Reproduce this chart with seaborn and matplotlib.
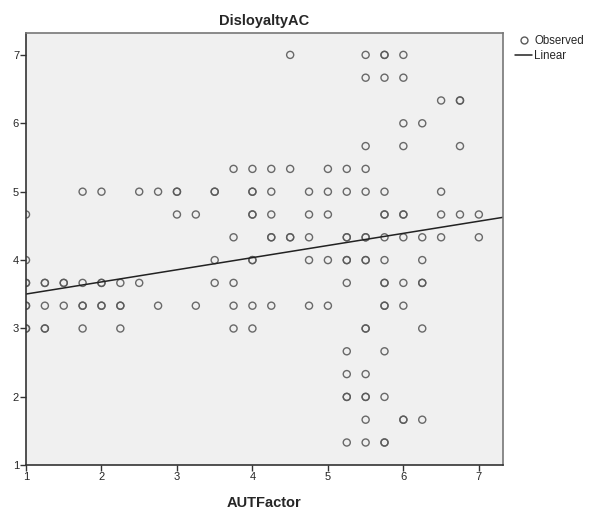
import matplotlib
matplotlib.use("Agg")
import matplotlib.pyplot as plt
import seaborn as sns
import pandas as pd
import numpy as np
from matplotlib.lines import Line2D

sns.set_style("white")
plt.rcParams['font.family'] = ['Liberation Sans', 'DejaVu Sans']

t = 1/3
# Observed points, grouped by DisloyaltyAC row value: list of AUTFactor values
rows = {
    7.0: [4.5, 5.5, 5.75, 5.75, 6.0],
    6 + 2*t: [5.5, 5.75, 6.0],
    6 + t: [6.5, 6.75, 6.75],
    6.0: [6.0, 6.25],
    5 + 2*t: [5.5, 6.0, 6.75],
    5 + t: [3.75, 4.0, 4.25, 4.5, 5.0, 5.25, 5.5],
    5.0: [1.75, 2.0, 2.5, 2.75, 3.0, 3.0, 3.5, 3.5, 4.0, 4.0, 4.25, 4.75, 5.0, 5.25, 5.5, 5.75, 6.5],
    4 + 2*t: [1.0, 3.0, 3.25, 4.0, 4.0, 4.25, 4.75, 5.0, 5.75, 5.75, 6.0, 6.0, 6.5, 6.75, 7.0],
    4 + t: [3.75, 4.25, 4.25, 4.5, 4.5, 4.75, 5.25, 5.25, 5.5, 5.5, 5.75, 6.0, 6.25, 6.5, 7.0],
    4.0: [1.0, 3.5, 4.0, 4.0, 4.75, 5.0, 5.25, 5.25, 5.5, 5.5, 5.75, 6.25],
    3 + 2*t: [1.0, 1.0, 1.25, 1.25, 1.5, 1.5, 1.75, 2.0, 2.0, 2.25, 2.5, 3.5, 3.75, 5.25, 5.75, 5.75, 6.0, 6.25, 6.25],
    3 + t: [1.0, 1.0, 1.25, 1.5, 1.75, 1.75, 2.0, 2.0, 2.25, 2.25, 2.75, 3.25, 3.75, 4.0, 4.25, 4.75, 5.0, 5.75, 5.75, 6.0],
    3.0: [1.0, 1.0, 1.25, 1.25, 1.75, 2.25, 3.75, 4.0, 5.5, 5.5, 6.25],
    2 + 2*t: [5.25, 5.75],
    2 + t: [5.25, 5.5],
    2.0: [5.25, 5.25, 5.5, 5.5, 5.75],
    1 + 2*t: [5.5, 6.0, 6.0, 6.25],
    1 + t: [5.25, 5.5, 5.75, 5.75],
}

# Linear fit as shown in the chart
fit_intercept = 3.326
fit_slope = 0.1775

xticks = [1, 2, 3, 4, 5, 6, 7]
yticks = [1, 2, 3, 4, 5, 6, 7]

aut = []
disl = []
for yv, xs in rows.items():
    for xv in xs:
        aut.append(xv)
        disl.append(yv)
df = pd.DataFrame({"AUTFactor": aut, "DisloyaltyAC": disl})

xlim = (1, 7.32)
ylim = (1, 7.32)
fit_df = pd.DataFrame({"AUTFactor": list(xlim)})
fit_df["DisloyaltyAC"] = fit_intercept + fit_slope * fit_df["AUTFactor"]

fig = plt.figure(figsize=(5.9, 5.13), dpi=100)
ax = fig.add_axes([26/590, 1 - 465.3/513, (503 - 26)/590, (465.3 - 33)/513])
ax.set_facecolor("#f0f0f0")

sns.scatterplot(data=df, x="AUTFactor", y="DisloyaltyAC", ax=ax, s=26,
                facecolors="none", edgecolor="#5a5a5a", linewidth=1.0, alpha=0.9, legend=False)
sns.lineplot(data=fit_df, x="AUTFactor", y="DisloyaltyAC", ax=ax, color="#222222", lw=1.1)
ax.set_xlim(*xlim)
ax.set_ylim(*ylim)

ax.set_xticks(xticks)
ax.set_yticks(yticks)
ax.tick_params(axis="both", direction="out", length=4, width=1, color="#333333",
               labelsize=8, pad=1, left=True, bottom=True)
for s in ax.spines.values():
    s.set_color("#777777")
    s.set_linewidth(1.2)
ax.spines["left"].set_color("#333333")
ax.spines["bottom"].set_color("#333333")

ax.set_xlabel("AUTFactor", fontsize=10.5, fontweight="bold", labelpad=10)
ax.set_ylabel("")
ax.set_title("DisloyaltyAC", fontsize=10.5, fontweight="bold", pad=6)

handles = [
    Line2D([], [], marker="o", linestyle="none", markerfacecolor="none",
           markeredgecolor="#5a5a5a", markersize=5, markeredgewidth=1.0),
    Line2D([], [], color="#222222", lw=1.1),
]
fig.legend(handles, ["Observed", "Linear"], loc="upper left", bbox_to_anchor=(515/590, 1 - 35/513),
           frameon=False, fontsize=8.3, handlelength=1.5, handletextpad=0.15, labelspacing=0.3,
           borderaxespad=0, borderpad=0)

fig.savefig("out.png", dpi=100, facecolor="white")
